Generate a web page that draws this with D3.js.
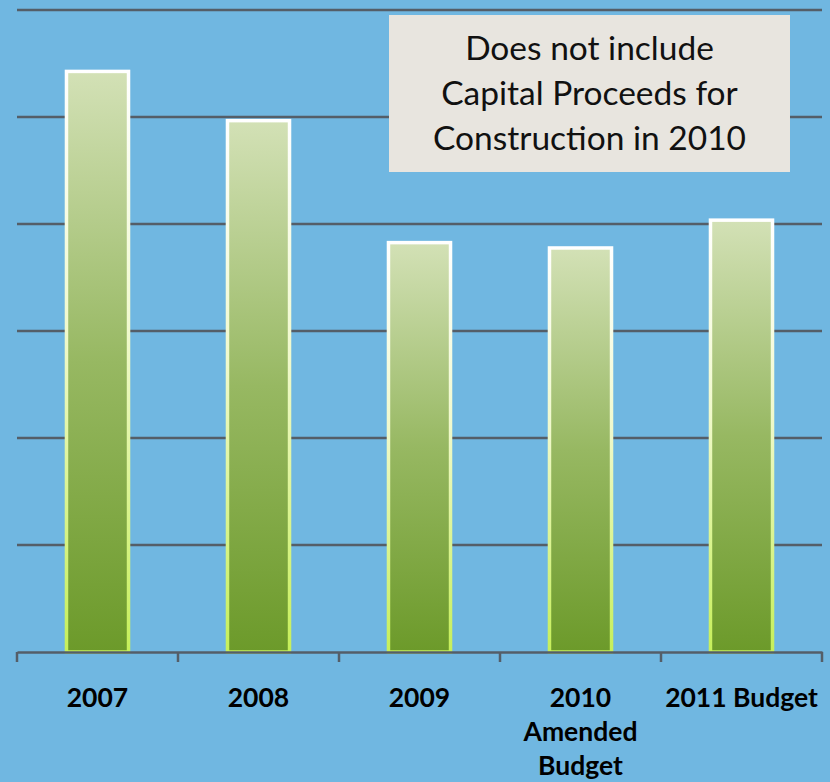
<!DOCTYPE html>
<html>
<head>
<meta charset="utf-8">
<script src="https://cdn.jsdelivr.net/npm/d3@7.9.0/dist/d3.min.js"></script>
<style>
  html, body { margin: 0; padding: 0; background: #70b7e1; }
  svg { display: block; }
  .cat { font-family: Lato, "Open Sans", sans-serif; font-weight: 700; font-size: 26.5px; fill: #000; }
  .note { font-family: Lato, "Open Sans", sans-serif; font-size: 33.5px; fill: #111; }
</style>
</head>
<body>
<svg id="chart" width="830" height="782"></svg>
<script>
const categories = ['2007', '2008', '2009', '2010\nAmended\nBudget', '2011 Budget'];
const values     = [5.44, 4.98, 3.84, 3.79, 4.05];
const yTicks     = [0, 1, 2, 3, 4, 5, 6];
const noteLines  = ['Does not include', 'Capital Proceeds for', 'Construction in 2010'];

const svg = d3.select('#chart');

const x = d3.scaleBand()
  .domain(categories)
  .range([17, 822])
  .paddingInner(0.596)
  .paddingOuter(0.298);

const y = d3.scaleLinear().domain([0, 6]).range([652, 10]);

const defs = svg.append('defs');
const fillGrad = defs.append('linearGradient')
  .attr('id', 'barFill').attr('x1', 0).attr('y1', 0).attr('x2', 0).attr('y2', 1);
fillGrad.append('stop').attr('offset', '0%').attr('stop-color', '#d3e1b6');
fillGrad.append('stop').attr('offset', '50%').attr('stop-color', '#97b862');
fillGrad.append('stop').attr('offset', '100%').attr('stop-color', '#6c9a2a');

const edgeGrad = defs.append('linearGradient')
  .attr('id', 'barEdge').attr('x1', 0).attr('y1', 0).attr('x2', 0).attr('y2', 1);
edgeGrad.append('stop').attr('offset', '0%').attr('stop-color', '#ffffff');
edgeGrad.append('stop').attr('offset', '45%').attr('stop-color', '#f0f9cc');
edgeGrad.append('stop').attr('offset', '100%').attr('stop-color', '#c6ef5a');

// gridlines
svg.append('g')
  .selectAll('line')
  .data(yTicks.filter(d => d > 0))
  .join('line')
    .attr('x1', 17).attr('x2', 822)
    .attr('y1', d => y(d)).attr('y2', d => y(d))
    .attr('stroke', '#545e68')
    .attr('stroke-width', 2.5);

// bars
svg.append('g')
  .selectAll('rect')
  .data(values)
  .join('rect')
    .attr('x', (d, i) => x(categories[i]) + 1.5)
    .attr('y', d => y(d) + 1.5)
    .attr('width', x.bandwidth() - 3)
    .attr('height', d => y(0) - y(d) - 1.5)
    .attr('fill', 'url(#barFill)')
    .attr('stroke', 'url(#barEdge)')
    .attr('stroke-width', 3.5);

// x axis
const axis = svg.append('g')
  .attr('transform', `translate(0,${y(0)})`)
  .call(d3.axisBottom(x).tickSize(0).tickFormat(''));
axis.select('.domain').attr('stroke', '#545e68').attr('stroke-width', 2.5);

const step = x.step();
svg.append('g')
  .selectAll('line')
  .data(d3.range(categories.length + 1))
  .join('line')
    .attr('x1', i => 17 + i * step).attr('x2', i => 17 + i * step)
    .attr('y1', y(0)).attr('y2', y(0) + 10)
    .attr('stroke', '#545e68')
    .attr('stroke-width', 2.5);

// category labels
svg.append('g')
  .selectAll('text')
  .data(categories)
  .join('text')
    .attr('class', 'cat')
    .attr('text-anchor', 'middle')
    .attr('x', d => x(d) + x.bandwidth() / 2)
    .attr('y', 707)
    .each(function (d) {
      const t = d3.select(this);
      d.split('\n').forEach((line, i) => {
        t.append('tspan')
          .attr('x', x(d) + x.bandwidth() / 2)
          .attr('dy', i === 0 ? 0 : 34)
          .text(line);
      });
    });

// note box
const note = svg.append('g');
note.append('rect')
  .attr('x', 389).attr('y', 15)
  .attr('width', 401).attr('height', 157)
  .attr('fill', '#e8e5df');
note.selectAll('text')
  .data(noteLines)
  .join('text')
    .attr('class', 'note')
    .attr('text-anchor', 'middle')
    .attr('x', 589.5)
    .attr('y', (d, i) => 60 + i * 45)
    .text(d => d);
</script>
</body>
</html>
